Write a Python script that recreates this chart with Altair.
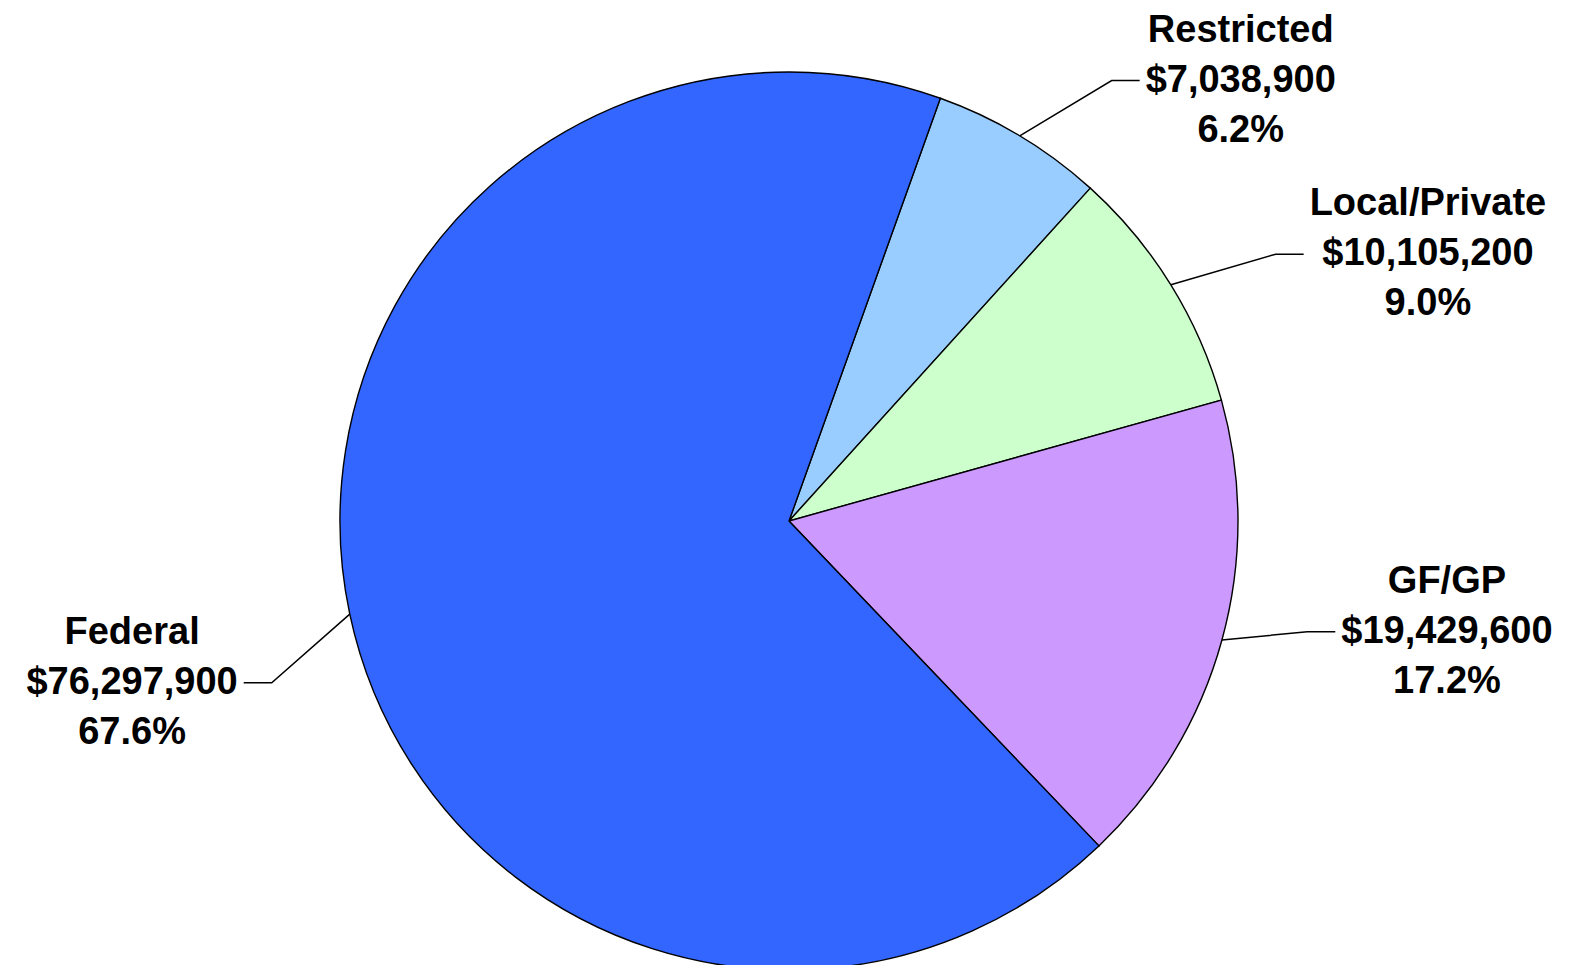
import math
import altair as alt
import pandas as pd

# ---- data ----
categories = ["Restricted", "Local/Private", "GF/GP", "Federal"]
amounts = [7038900, 10105200, 19429600, 76297900]
colors = ["#99CCFF", "#CCFFCC", "#CC99FF", "#3366FF"]

# ---- layout ----
W, H = 1556, 957
CX, CY, R = 781, 513, 449
START_DEG = 19.7              # first slice starts here (clockwise from 12 o'clock)
LABEL_R = [546, 555, 530, 542]             # radius of each leader elbow
LABEL_NUDGE_DEG = [5.3, 3.0, -3.3, -5.4]   # angular shift of each label from its slice middle
HSEG = 28                     # horizontal part of leader
GAP = 6
FONT = "Liberation Sans"
FS = 38
LINE_H = 50

# Arial-bold advance widths (per em) for width estimation of label blocks
CW = {'$': .556, ',': .278, '.': .278, '%': .889, '/': .278, 'R': .722, 'e': .556,
      's': .556, 't': .333, 'r': .389, 'i': .278, 'c': .556, 'd': .611, 'L': .611,
      'o': .611, 'a': .556, 'l': .278, 'P': .667, 'v': .556, 'G': .778, 'F': .611}


def text_w(s):
    return sum(CW.get(ch, .556) for ch in s) * FS


total = sum(amounts)
a_start = math.radians(START_DEG)

rows, pts, labels = [], [], []
cum = 0.0
for i, (cat, amt, col) in enumerate(zip(categories, amounts, colors)):
    frac = amt / total
    a0 = a_start + 2 * math.pi * cum
    a1 = a0 + 2 * math.pi * frac
    cum += frac
    mid = (a0 + a1) / 2
    rows.append({"cat": cat, "amt": amt, "ord": i})

    side = 1 if math.sin(mid) > 0 else -1
    na = mid + math.radians(LABEL_NUDGE_DEG[i])

    ex, ey = CX + R * math.sin(mid), CY - R * math.cos(mid)
    bx, by = CX + LABEL_R[i] * math.sin(na), CY - LABEL_R[i] * math.cos(na)
    tx = bx + side * HSEG
    for k, (px, py) in enumerate([(ex, ey), (bx, by), (tx, by)]):
        pts.append({"cat": cat, "k": k, "px": px, "py": py})

    lines = [cat, "${:,}".format(amt), "{:.1f}%".format(100 * frac)]
    wmax = max(text_w(s) for s in lines)
    labels.append({"cat": cat, "lx": tx + side * (wmax / 2 + GAP), "ly": by,
                   "txt": "\n".join(lines)})

slices = pd.DataFrame(rows)
leaders = pd.DataFrame(pts)
lab = pd.DataFrame(labels)

xs = alt.Scale(domain=[0, W], range=[0, W])
ys = alt.Scale(domain=[0, H], range=[0, H])

pie = alt.Chart(slices).mark_arc(radius=R, stroke="black", strokeWidth=1.4).encode(
    theta=alt.Theta("amt:Q", stack=True,
                    scale=alt.Scale(range=[a_start, a_start + 2 * math.pi])),
    color=alt.Color("cat:N", scale=alt.Scale(domain=categories, range=colors), legend=None),
    order=alt.Order("ord:Q"),
    x=alt.value(CX),
    y=alt.value(CY),
)

lead = alt.Chart(leaders).mark_line(color="black", strokeWidth=1.5).encode(
    x=alt.X("px:Q", scale=xs, axis=None),
    y=alt.Y("py:Q", scale=ys, axis=None),
    detail="cat:N",
    order="k:Q",
)

txt = alt.Chart(lab).mark_text(font=FONT, fontSize=FS, fontWeight="bold", color="black",
                               lineBreak="\n", lineHeight=LINE_H, align="center",
                               baseline="middle", dy=-LINE_H).encode(
    x=alt.X("lx:Q", scale=xs, axis=None),
    y=alt.Y("ly:Q", scale=ys, axis=None),
    text="txt:N",
)

chart = alt.layer(pie, lead, txt).properties(
    width=W, height=H, autosize=alt.AutoSizeParams(type="none"), padding=0
).configure_view(stroke=None).resolve_scale(color="independent")

chart.save("out.html", embed_options={"renderer": "svg", "actions": False})
